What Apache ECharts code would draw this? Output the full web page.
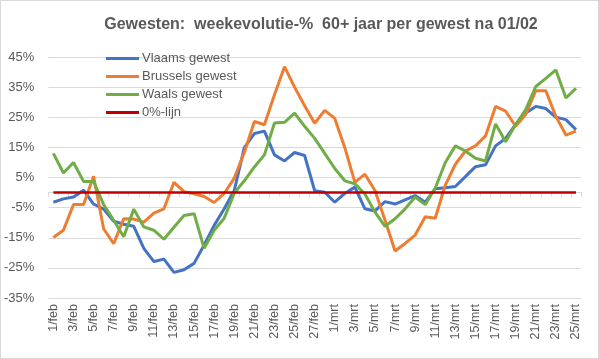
<!DOCTYPE html>
<html>
<head>
<meta charset="utf-8">
<script src="https://cdn.jsdelivr.net/npm/echarts@6/dist/echarts.min.js"></script>
<style>
html,body{margin:0;padding:0;background:#fff;}
#c{width:599px;height:359px;box-sizing:border-box;border:1px solid #d9d9d9;}
</style>
</head>
<body>
<div id="c"></div>
<script>
var categories = ["1/feb","2/feb","3/feb","4/feb","5/feb","6/feb","7/feb","8/feb","9/feb","10/feb",
"11/feb","12/feb","13/feb","14/feb","15/feb","16/feb","17/feb","18/feb","19/feb","20/feb",
"21/feb","22/feb","23/feb","24/feb","25/feb","26/feb","27/feb","28/feb",
"1/mrt","2/mrt","3/mrt","4/mrt","5/mrt","6/mrt","7/mrt","8/mrt","9/mrt","10/mrt",
"11/mrt","12/mrt","13/mrt","14/mrt","15/mrt","16/mrt","17/mrt","18/mrt","19/mrt","20/mrt",
"21/mrt","22/mrt","23/mrt","24/mrt","25/mrt"];

var vlaams = [-3.2,-2.1,-1.5,0.8,-3.8,-5.5,-9.5,-10.5,-11.2,-18.5,
-22.9,-22.1,-26.5,-25.6,-23.5,-17.4,-10.9,-5.4,0.7,14.9,
19.6,20.4,12.5,10.5,13.3,12.3,0.6,0.1,
-3.2,-0.3,1.8,-5.4,-6.1,-3.0,-3.8,-2.4,-1.0,-3.2,
1.3,1.6,2.0,5.3,8.6,9.2,15.5,18.0,22.6,26.4,
28.6,27.9,25.0,24.2,20.9];

var brussels = [-14.9,-12.5,-4.0,-4.0,5.4,-12.0,-17.0,-8.7,-8.8,-9.8,
-6.8,-5.4,3.4,0.3,-0.4,-1.3,-3.3,-0.3,4.8,13.3,
23.6,22.5,32.5,41.8,35.0,28.8,23.0,27.3,
24.6,14.9,3.4,6.1,0.7,-9.2,-19.4,-16.9,-14.1,-8.0,
-8.5,2.5,9.4,13.8,15.5,18.8,28.6,27.0,22.0,25.9,
33.8,33.8,25.3,19.1,20.4];

var waals = [13.0,6.5,10.0,3.7,3.7,-4.0,-9.2,-14.7,-5.5,-11.4,
-12.5,-15.5,-11.5,-7.6,-7.0,-18.5,-12.5,-8.5,-0.2,3.9,
8.5,12.5,23.1,23.3,26.4,22.0,18.0,13.0,
8.0,3.9,2.9,-0.5,-6.5,-11.2,-8.7,-5.4,-1.5,-4.0,
1.5,10.0,15.5,13.8,11.4,10.5,22.8,16.9,22.6,27.5,
35.2,37.9,40.7,31.4,34.6];

var nulLijn = categories.map(function(){return 0;});

var seriesNames = ["Vlaams gewest","Brussels gewest","Waals gewest","0%-lijn"];
var yTicks = {min:-35, max:45, interval:10};

var chart = echarts.init(document.getElementById('c'), null, {renderer:'canvas'});
var txt = '#595959';
var font = 'Liberation Sans';
function line(name, data, color, w){
  return {name:name, type:'line', data:data, symbol:'none', showSymbol:false,
    lineStyle:{color:color, width:w}, itemStyle:{color:color}, animation:false, z:2};
}
chart.setOption({
  animation:false,
  textStyle:{fontFamily:font},
  title:{text:'Gewesten:  weekevolutie-%  60+ jaar per gewest na 01/02', left:315, textAlign:'center', top:11,
    textStyle:{fontSize:16, fontWeight:'bold', color:txt, fontFamily:font}},
  legend:{orient:'vertical', left:100, top:45, icon:'rect', itemWidth:33, itemHeight:3, itemGap:3,
    data:seriesNames, textStyle:{fontSize:13, lineHeight:15, color:txt, fontFamily:font, padding:[0,0,0,-2]}},
  grid:{left:47, right:17, top:56, bottom:60},
  xAxis:{type:'category', data:categories, boundaryGap:true,
    axisLine:{onZero:true, lineStyle:{color:'#d9d9d9', width:1}},
    axisTick:{show:true, interval:0, length:4, lineStyle:{color:'#d9d9d9'}},
    axisLabel:{interval:1, rotate:90, fontSize:12.5, color:txt, margin:6, fontFamily:font},
    splitLine:{show:false}},
  yAxis:{type:'value', min:yTicks.min, max:yTicks.max, interval:yTicks.interval,
    axisLine:{show:false}, axisTick:{show:false},
    axisLabel:{formatter:'{value}%', fontSize:13, color:txt, margin:14, fontFamily:font},
    splitLine:{lineStyle:{color:'#d9d9d9', width:1}}},
  series:[
    line(seriesNames[0], vlaams, '#4472C4', 3),
    line(seriesNames[1], brussels, '#ED7D31', 3),
    line(seriesNames[2], waals, '#70AD47', 3),
    line(seriesNames[3], nulLijn, '#C00000', 2.5)
  ]
});
</script>
</body>
</html>
